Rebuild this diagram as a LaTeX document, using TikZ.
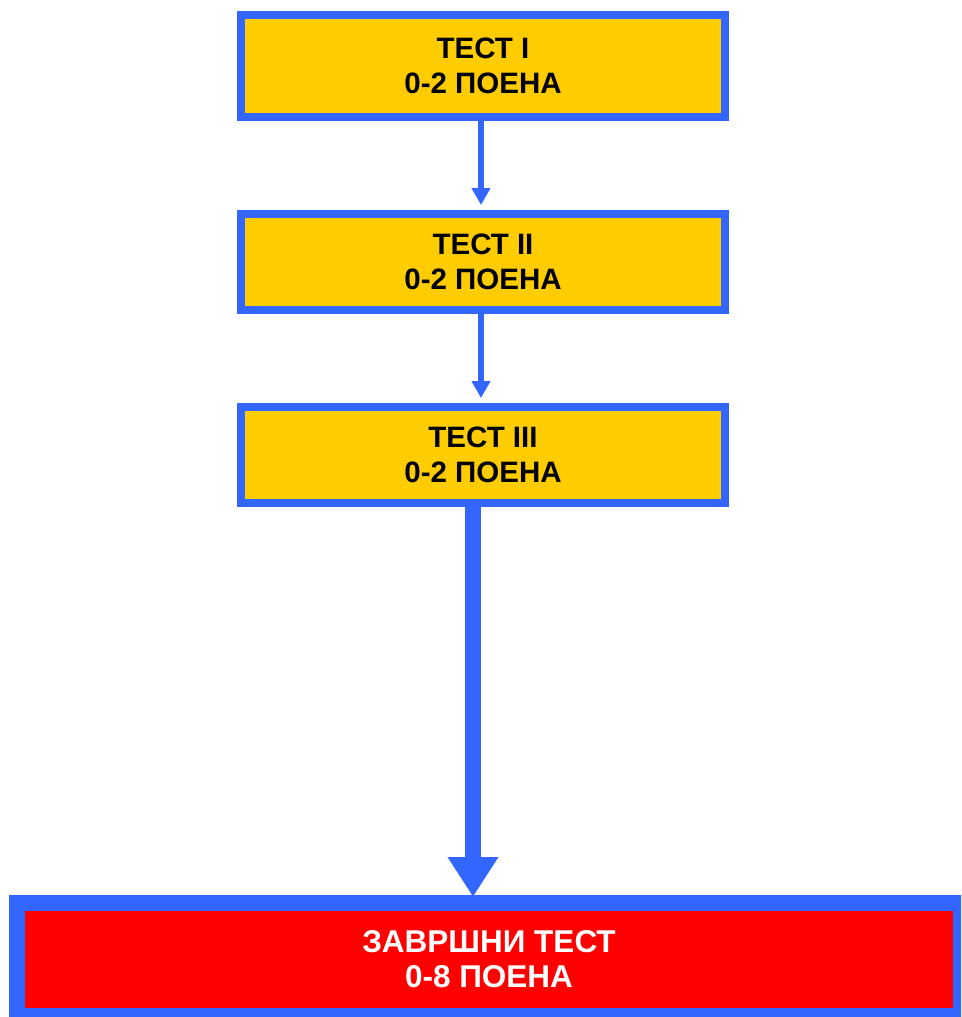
\documentclass[tikz,border=0pt]{standalone}
\usepackage{fontspec}
\setmainfont{Liberation Sans}
\usetikzlibrary{arrows.meta}
\definecolor{bblue}{HTML}{3366FF}
\definecolor{byellow}{HTML}{FFCC00}
\definecolor{bred}{HTML}{FF0000}
\begin{document}
\begin{tikzpicture}[x=1pt,y=-1pt,
  testbox/.style={draw=bblue, line width=8pt, fill=byellow, minimum width=484pt,
    inner sep=0pt, align=center, font=\fontsize{29.5}{35}\selectfont\bfseries, text=black},
  finalbox/.style={draw=bblue, line width=16pt, fill=bred, minimum width=944pt, minimum height=113pt,
    inner sep=0pt, align=center, font=\fontsize{31.5}{35}\selectfont\bfseries, text=white},
  thinarrow/.style={draw=bblue, line width=6pt, -{Triangle[width=18pt,length=17pt]}},
  thickarrow/.style={draw=bblue, line width=16pt, -{Triangle[width=48pt,length=40pt]}}
]
\useasboundingbox (0,0) rectangle (961,1017);
\clip (0,0) rectangle (961,1017);
\fill[white] (0,0) rectangle (961,1017);
\node[testbox, minimum height=102pt] (t1) at (483,66) {ТЕСТ I\\0-2 ПОЕНА};
\node[testbox, minimum height=96pt] (t2) at (483,262) {ТЕСТ II\\0-2 ПОЕНА};
\node[testbox, minimum height=96pt] (t3) at (483,455) {ТЕСТ III\\0-2 ПОЕНА};
\node[finalbox] (fin) at (489,959.5) {ЗАВРШНИ ТЕСТ\\0-8 ПОЕНА};
\draw[thinarrow, shorten >=5pt] ([xshift=-2pt]t1.south) -- ([xshift=-2pt]t2.north);
\draw[thinarrow, shorten >=5pt] ([xshift=-2pt]t2.south) -- ([xshift=-2pt]t3.north);
\coordinate (c3) at ([xshift=-10pt]t3.south);
\draw[thickarrow, shorten >=-2pt] (c3) -- (c3 |- fin.north);
\end{tikzpicture}
\end{document}
